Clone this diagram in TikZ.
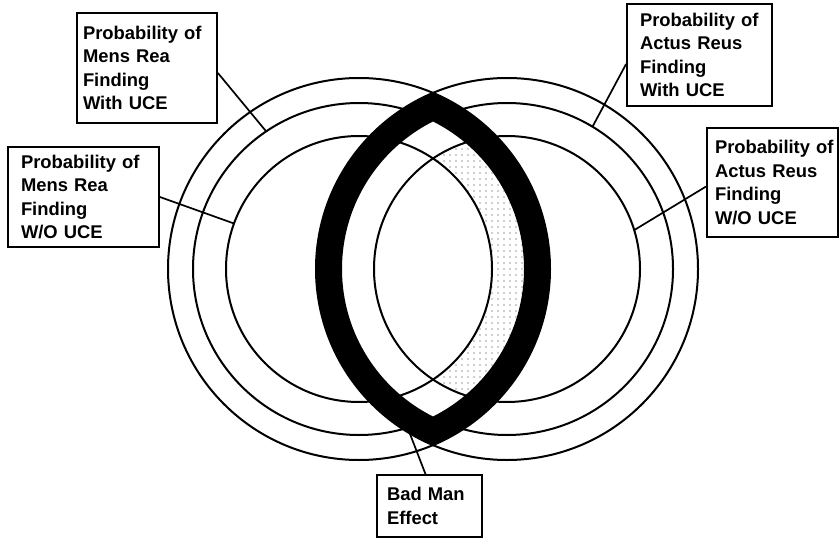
\documentclass[tikz,border=0pt]{standalone}
\usepackage{fontspec}
\setmainfont{Liberation Sans}
\usetikzlibrary{patterns.meta}
\begin{document}
\begin{tikzpicture}[x=1pt,y=1pt,
  ring/.style={line width=2pt},
  lbl/.style={draw, line width=1.8pt, fill=white,
    font=\fontsize{18.4}{23.5}\selectfont\bfseries, align=left, inner ysep=0pt},
  conn/.style={line width=1.7pt}]
\useasboundingbox (0,0) rectangle (840,539);
\coordinate (L) at (359,270);
\coordinate (R) at (507,270);
% thick black band between outer lens and middle lens
\begin{scope}
  \clip (L) circle[radius=191pt];
  \fill[black] (R) circle[radius=191pt];
\end{scope}
\begin{scope}
  \clip (L) circle[radius=166pt];
  \fill[white] (R) circle[radius=166pt];
\end{scope}
% dotted crescent
\begin{scope}
  \clip (L) circle[radius=166pt];
  \clip (R) circle[radius=133pt];
  \fill[pattern={Dots[distance=6pt,radius=0.7pt]}, pattern color=black!80, even odd rule]
    (0,0) rectangle (840,539) (L) circle[radius=133pt];
\end{scope}
% rings
\foreach \c in {L,R}{
  \foreach \r in {191,166,133}{
    \draw[ring] (\c) circle[radius=\r pt];
  }
}
% connector end points on the rings
\coordinate (e1) at ([shift={(124:166pt)}]L);
\coordinate (e2) at ([shift={(160:133pt)}]L);
\coordinate (e3) at ([shift={(59:166pt)}]R);
\coordinate (e4) at ([shift={(17:133pt)}]R);
\coordinate (e5) at ([shift={(239.4:191pt)}]R);
% label boxes
\node[lbl, minimum width=140pt, minimum height=110pt, inner xsep=6pt, text width=128pt]
  (b1) at (147,471) {Probability~of\\Mens~Rea\\Finding\\With~UCE};
\node[lbl, minimum width=151pt, minimum height=100pt, inner xsep=13pt, text width=125pt]
  (b2) at (83.5,342) {Probability~of\\Mens~Rea\\Finding\\W/O~UCE};
\node[lbl, minimum width=145pt, minimum height=102pt, inner xsep=13pt, text width=119pt]
  (b3) at (699.5,484) {Probability~of\\Actus~Reus\\Finding\\With~UCE};
\node[lbl, minimum width=131pt, minimum height=109pt, inner xsep=8pt, text width=115pt]
  (b4) at (772.5,356.5) {Probability~of\\Actus~Reus\\Finding\\W/O~UCE};
\node[lbl, minimum width=105pt, minimum height=62pt, inner xsep=10pt, text width=85pt]
  (b5) at (429.5,33) {Bad~Man\\Effect};
% connectors
\draw[conn] ([yshift=-5pt]b1.east) -- (e1);
\draw[conn] (b2.east) -- (e2);
\draw[conn] ([yshift=-9pt]b3.west) -- (e3);
\draw[conn] ([yshift=-4pt]b4.west) -- (e4);
\draw[conn] ([xshift=-4pt]b5.north) -- (e5);
\end{tikzpicture}
\end{document}
